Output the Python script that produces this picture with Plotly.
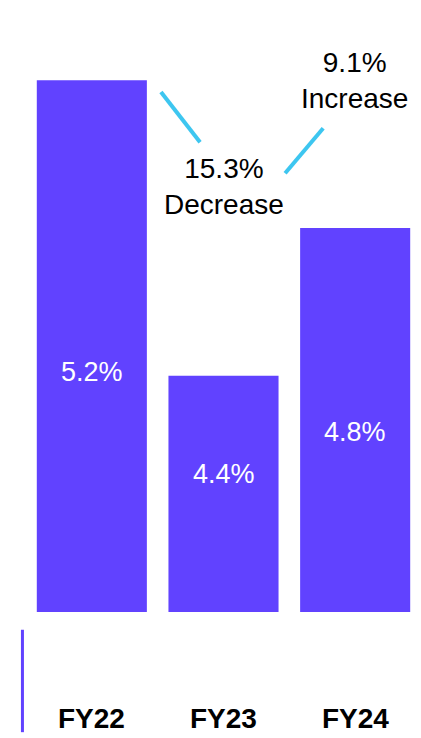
import plotly.graph_objects as go

# Fiscal years and their rates (%)
years = ["FY22", "FY23", "FY24"]
rates = [5.2, 4.4, 4.8]
rate_labels = ["5.2%", "4.4%", "4.8%"]
# vertical position of the in-bar value labels (data units)
label_y = [4.41, 4.134, 4.247]

# year-over-year change callouts
changes = ["15.3%<br>Decrease", "9.1%<br>Increase"]

BAR = "#6142FF"
CYAN = "#3DC6F0"
FONT = "Liberation Sans, Arial, Helvetica, sans-serif"

fig = go.Figure()
fig.add_trace(go.Bar(
    x=years, y=rates, base=0,
    marker=dict(color=BAR, line=dict(width=0)),
    width=0.836, hoverinfo="skip",
))

# value labels inside the bars
for yr, lab, ly in zip(years, rate_labels, label_y):
    fig.add_annotation(x=yr, y=ly, text=lab, showarrow=False,
                       font=dict(family=FONT, size=27, color="white"))

# year labels under the axis
for yr in years:
    fig.add_annotation(x=yr, yref="paper", y=-0.1805, text="<b>" + yr + "</b>",
                       showarrow=False, yanchor="middle",
                       font=dict(family=FONT, size=28, color="black"))

# change callouts with connector strokes
fig.add_annotation(x=1.0, y=4.913, text=changes[0], showarrow=False,
                   font=dict(family=FONT, size=28, color="black"))
fig.add_annotation(x=1.993, y=5.198, text=changes[1], showarrow=False,
                   font=dict(family=FONT, size=28, color="black"))
fig.add_shape(type="line", x0=0.525, y0=5.168, x1=0.822, y1=5.032,
              line=dict(color=CYAN, width=4))
fig.add_shape(type="line", x0=1.468, y0=4.948, x1=1.757, y1=5.070,
              line=dict(color=CYAN, width=4))

# accent rule at the left of the year labels
fig.add_shape(type="line", xref="paper", yref="paper",
              x0=-0.009, x1=-0.009, y0=-0.03, y1=-0.203,
              line=dict(color=BAR, width=3))

fig.update_layout(
    width=421, height=738,
    margin=dict(l=26, r=0, t=20, b=126),
    paper_bgcolor="white", plot_bgcolor="white",
    showlegend=False,
    bargap=0.164,
    xaxis=dict(type="category", range=[-0.5, 2.5], showticklabels=False,
               showgrid=False, zeroline=False, showline=False, fixedrange=True),
    yaxis=dict(range=[3.76, 5.363], visible=False, fixedrange=True),
)

fig.write_html("out.html")
